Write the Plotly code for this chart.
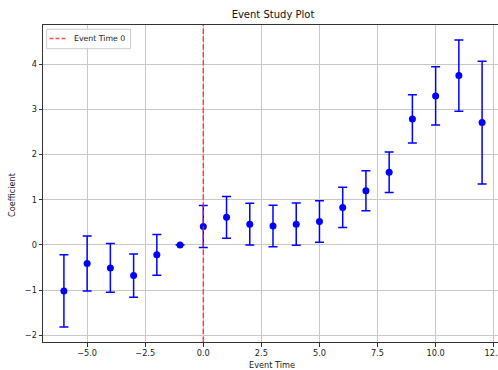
import plotly.graph_objects as go

event_time = [-6, -5, -4, -3, -2, -1, 0, 1, 2, 3, 4, 5, 6, 7, 8, 9, 10, 11, 12]
coef = [-1.02, -0.41, -0.51, -0.68, -0.22, 0.0, 0.41, 0.61, 0.46, 0.42, 0.46, 0.52,
        0.83, 1.20, 1.61, 2.79, 3.30, 3.75, 2.71]
err = [0.80, 0.61, 0.54, 0.48, 0.45, 0.0, 0.465, 0.46, 0.46, 0.46, 0.47, 0.46,
       0.445, 0.445, 0.45, 0.535, 0.645, 0.79, 1.36]
event_zero = 0
legend_label = "Event Time 0"

FONT = "DejaVu Sans"
TXT = "#222"
W, H = 505, 370           # figure is wider than the 498px window; right edge is cut like the reference
L, R, T, B = 43, 2, 25, 28
PW, PH = W - L - R, H - T - B


def px_x(x):
    return (x - L) / PW


def px_y(y):
    return (H - B - y) / PH


RED = "rgba(255,30,30,0.8)"
DASH = "5.5px,2.4px"

fig = go.Figure()
fig.add_trace(go.Scatter(
    x=event_time, y=coef, mode="markers", showlegend=False,
    marker=dict(color="blue", size=7),
    error_y=dict(type="data", array=err, visible=True, color="blue", thickness=1.5, width=4.5),
))
fig.add_vline(x=event_zero, line=dict(color=RED, width=1.5, dash=DASH), layer="above")

# legend box (matplotlib style, small)
fig.add_shape(type="rect", xref="paper", yref="paper",
              x0=px_x(46.7), x1=px_x(130.5), y0=px_y(48.7), y1=px_y(29.3),
              line=dict(color="#cccccc", width=1), fillcolor="rgba(255,255,255,0.85)", layer="above")
fig.add_shape(type="line", xref="paper", yref="paper",
              x0=px_x(49.5), x1=px_x(66.7), y0=px_y(38.5), y1=px_y(38.5),
              line=dict(color=RED, width=1.5, dash="4px,2px"), layer="above")

fig.update_layout(
    width=W, height=H,
    margin=dict(l=L, r=R, t=T, b=B, autoexpand=False),
    plot_bgcolor="white", paper_bgcolor="white",
    font=dict(family=FONT, size=8.2, color=TXT),
    title=dict(text="Event Study Plot", x=0.5, xref="paper", xanchor="center",
               yref="container", y=1 - 14 / H, yanchor="middle",
               font=dict(size=10, color="#111")),
    showlegend=False,
    annotations=[
        dict(text=legend_label, xref="paper", yref="paper", x=px_x(72.2), y=px_y(38.5),
             xanchor="left", yanchor="middle", showarrow=False, font=dict(size=7.8, color=TXT)),
        dict(text="Event Time", xref="paper", yref="paper", x=px_x(272), y=px_y(365),
             xanchor="center", yanchor="middle", showarrow=False, font=dict(size=8.2, color=TXT)),
        dict(text="Coefficient", xref="paper", yref="paper", x=px_x(12), y=px_y(195),
             xanchor="center", yanchor="middle", textangle=-90, showarrow=False,
             font=dict(size=8.2, color=TXT)),
    ],
)
fig.update_xaxes(
    range=[-6.9, 12.9], dtick=2.5, tick0=0, tickformat=".1f", automargin=False,
    showgrid=True, gridcolor="#c8c8c8", gridwidth=1, zeroline=False,
    showline=True, linecolor="#333", linewidth=1, mirror=True,
    ticks="outside", ticklen=3.5, tickcolor="#333", tickfont=dict(size=8.2, color=TXT),
)
fig.update_yaxes(
    range=[-2.15, 4.87], dtick=1, tick0=0, automargin=False,
    showgrid=True, gridcolor="#c8c8c8", gridwidth=1, zeroline=False,
    showline=True, linecolor="#333", linewidth=1,
    ticks="outside", ticklen=3.5, tickcolor="#333", tickfont=dict(size=8.2, color=TXT),
)

fig.write_html(
    "out.html",
    config={"displayModeBar": False},
    post_script="document.body.style.margin='0';document.body.style.overflow='hidden';",
)
